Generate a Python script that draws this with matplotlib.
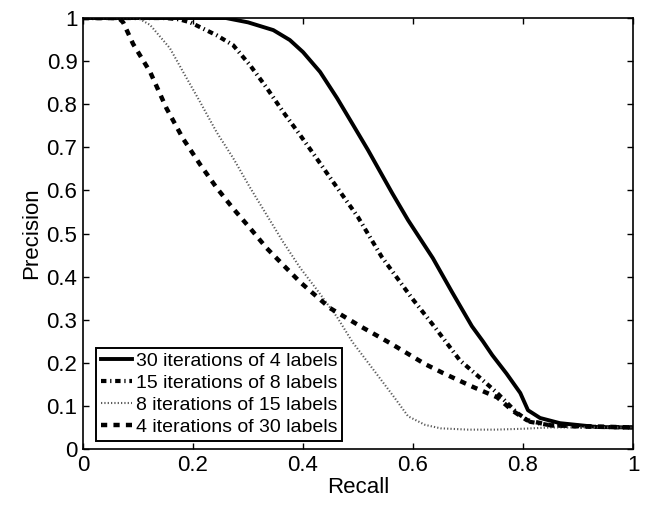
import matplotlib
matplotlib.use("Agg")
import matplotlib.pyplot as plt
from matplotlib.ticker import FormatStrFormatter

plt.rcParams["font.family"] = ["Liberation Sans", "DejaVu Sans"]

# 30 iterations of 4 labels
recall_a = [0, 0.2, 0.26, 0.3, 0.346, 0.376, 0.4, 0.431, 0.462, 0.491, 0.518,
            0.562, 0.591, 0.636, 0.671, 0.707, 0.727, 0.744, 0.77, 0.795, 0.809,
            0.831, 0.867, 0.935, 1.0]
prec_a = [1, 1, 1, 0.99, 0.972, 0.949, 0.921, 0.875, 0.814, 0.752, 0.694,
          0.594, 0.531, 0.443, 0.364, 0.285, 0.25, 0.218, 0.175, 0.13, 0.09,
          0.072, 0.06, 0.051, 0.05]

# 15 iterations of 8 labels
recall_b = [0, 0.15, 0.175, 0.195, 0.243, 0.273, 0.304, 0.334, 0.364, 0.395,
            0.425, 0.449, 0.5, 0.543, 0.598, 0.64, 0.685, 0.722, 0.753, 0.789,
            0.813, 0.85, 0.9, 1.0]
prec_b = [1, 1, 0.997, 0.99, 0.96, 0.937, 0.89, 0.838, 0.782, 0.728,
          0.674, 0.63, 0.538, 0.446, 0.35, 0.282, 0.206, 0.165, 0.13, 0.084,
          0.063, 0.055, 0.052, 0.05]

# 8 iterations of 15 labels
recall_c = [0, 0.1, 0.122, 0.158, 0.182, 0.213, 0.243, 0.273, 0.304, 0.334,
            0.364, 0.395, 0.425, 0.462, 0.49, 0.531, 0.567, 0.591, 0.622, 0.65,
            0.7, 0.75, 0.8, 0.85, 1.0]
prec_c = [1, 1, 0.984, 0.93, 0.875, 0.805, 0.735, 0.675, 0.606, 0.543,
          0.48, 0.42, 0.37, 0.306, 0.248, 0.179, 0.118, 0.076, 0.056, 0.048,
          0.045, 0.045, 0.047, 0.05, 0.05]

# 4 iterations of 30 labels
recall_d = [0, 0.065, 0.073, 0.091, 0.122, 0.152, 0.182, 0.213, 0.243, 0.273,
            0.304, 0.334, 0.364, 0.395, 0.449, 0.504, 0.536, 0.562, 0.622, 0.655,
            0.709, 0.753, 0.782, 0.807, 0.85, 1.0]
prec_d = [1, 1, 0.99, 0.94, 0.875, 0.79, 0.72, 0.66, 0.606, 0.558,
          0.512, 0.466, 0.427, 0.387, 0.327, 0.285, 0.262, 0.243, 0.197, 0.176,
          0.144, 0.12, 0.088, 0.067, 0.055, 0.05]

labels = ["30 iterations of 4 labels", "15 iterations of 8 labels",
          "8 iterations of 15 labels", "4 iterations of 30 labels"]

fig = plt.figure(figsize=(6.5, 5.11), dpi=100)
ax = fig.add_axes([0.1277, 0.1213, 0.8462, 0.8434])

ax.plot(recall_a, prec_a, color="black", linewidth=2.8, linestyle="-", label=labels[0])
ax.plot(recall_b, prec_b, color="black", linewidth=3,
        linestyle=(0, (1.3, 0.9, 0.3, 0.9)), label=labels[1])
ax.plot(recall_c, prec_c, color="0.35", linewidth=1.5,
        linestyle=(0, (0.6, 1.0)), label=labels[2])
ax.plot(recall_d, prec_d, color="black", linewidth=3.2,
        linestyle=(0, (1.4, 1.4)), label=labels[3])

ax.set_xlim(0, 1)
ax.set_ylim(0, 1)
ax.set_xticks([0, 0.2, 0.4, 0.6, 0.8, 1])
ax.set_yticks([0, 0.1, 0.2, 0.3, 0.4, 0.5, 0.6, 0.7, 0.8, 0.9, 1])
ax.xaxis.set_major_formatter(FormatStrFormatter("%g"))
ax.yaxis.set_major_formatter(FormatStrFormatter("%g"))
ax.tick_params(direction="in", length=4, width=1, top=True, right=True,
               labelsize=16, pad=4)
for sp in ax.spines.values():
    sp.set_linewidth(1.2)

ax.set_xlabel("Recall", fontsize=16, labelpad=1)
ax.set_ylabel("Precision", fontsize=16, labelpad=3)

leg = ax.legend(loc="lower left", bbox_to_anchor=(0.024, 0.019), borderaxespad=0,
                fontsize=14, fancybox=False, handlelength=1.6, handletextpad=0.2,
                labelspacing=0.22, borderpad=0.25, framealpha=1)
leg.get_frame().set_edgecolor("black")
leg.get_frame().set_linewidth(1.4)

fig.savefig("out.png", dpi=100)
